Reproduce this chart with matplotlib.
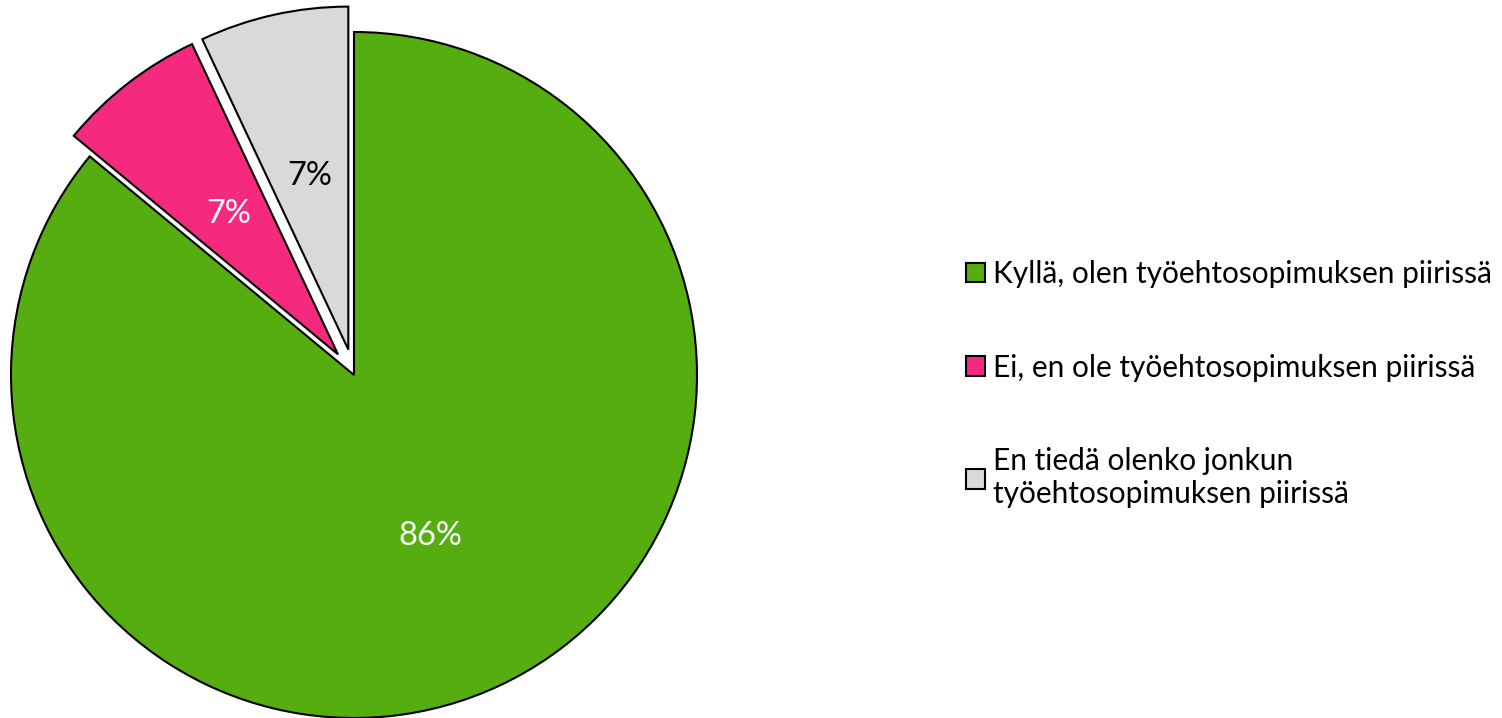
import matplotlib
matplotlib.use("Agg")
import matplotlib.pyplot as plt
from matplotlib.patches import Patch

categories = ["Kyllä, olen työehtosopimuksen piirissä",
              "Ei, en ole työehtosopimuksen piirissä",
              "En tiedä olenko jonkun\ntyöehtosopimuksen piirissä"]
values = [86, 7, 7]
colors = ["#56AD10", "#F52A7F", "#D9D9D9"]
label_colors = ["white", "white", "black"]
explode = [0, 26, 26]

plt.rcParams['font.family'] = ['Lato', 'DejaVu Sans']

W, H = 1502, 718
fig = plt.figure(figsize=(W / 100, H / 100), dpi=100)
ax = fig.add_axes([0, 0, 1, 1])

R = 343
wedges, texts, autotexts = ax.pie(
    values, colors=colors, explode=explode, radius=R, center=(354, H - 375),
    startangle=90, counterclock=False, autopct='%1.0f%%', pctdistance=0.52,
    wedgeprops=dict(edgecolor='black', linewidth=1.5),
    textprops=dict(fontsize=23.5), frame=True)
ax.set_xlim(0, W)
ax.set_ylim(0, H)
ax.axis('off')
for t, c in zip(autotexts, label_colors):
    t.set_color(c)

handles = [Patch(facecolor=c, edgecolor='black', linewidth=1.5) for c in colors]
leg = ax.legend(handles, categories, loc='center left', bbox_to_anchor=(966 / W, 1 - 384 / H),
                frameon=False, fontsize=21.5, handlelength=0.64, handleheight=0.64,
                handletextpad=0.25, labelspacing=2.2, borderpad=0, borderaxespad=0)
plt.savefig("out.png", dpi=100)
